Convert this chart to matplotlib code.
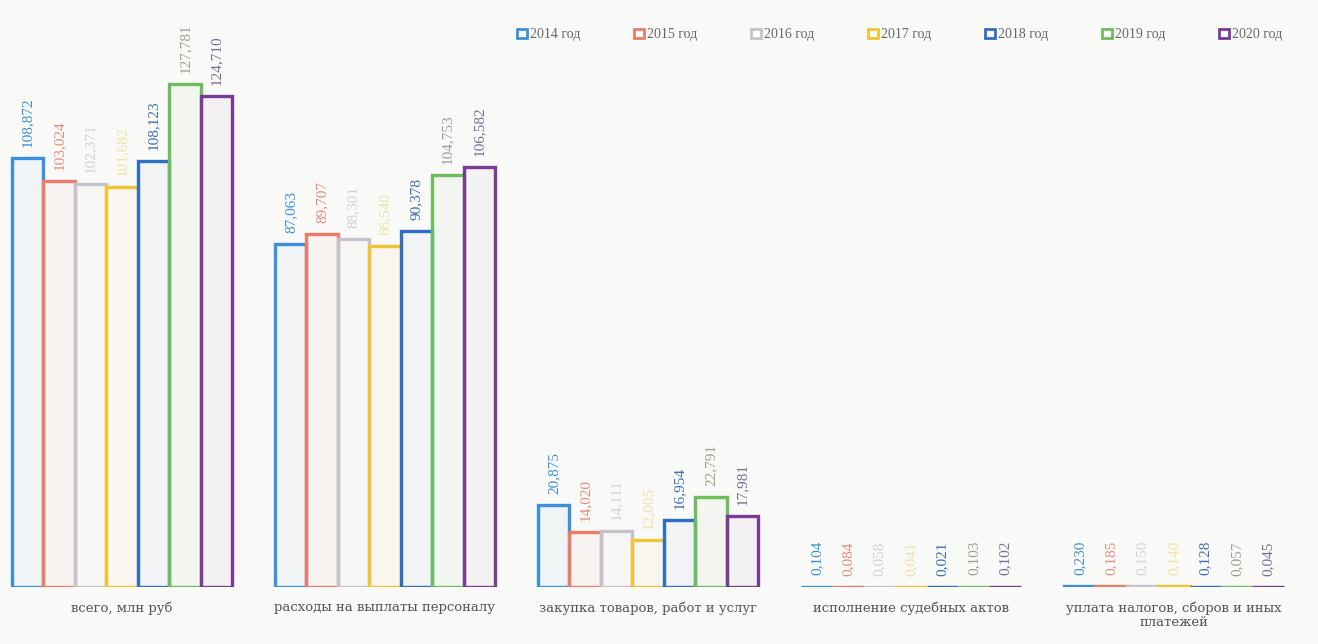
import matplotlib.pyplot as plt
import numpy as np
from matplotlib.patches import Patch

# data (faint 2016/2017 labels)
categories = [
    "всего, млн руб",
    "расходы на выплаты персоналу",
    "закупка товаров, работ и услуг",
    "исполнение судебных актов",
    "уплата налогов, сборов и иных\nплатежей",
]
years = ["2014 год", "2015 год", "2016 год", "2017 год", "2018 год", "2019 год", "2020 год"]

v2014 = [108.872, 87.063, 20.875, 0.104, 0.230]
v2015 = [103.024, 89.707, 14.020, 0.084, 0.185]
v2016 = [102.371, 88.301, 14.111, 0.058, 0.150]
v2017 = [101.682, 86.540, 12.005, 0.041, 0.140]
v2018 = [108.123, 90.378, 16.954, 0.021, 0.128]
v2019 = [127.781, 104.753, 22.791, 0.103, 0.057]
v2020 = [124.710, 106.582, 17.981, 0.102, 0.045]
series = [v2014, v2015, v2016, v2017, v2018, v2019, v2020]

edge_colors = ["#3b8fdc", "#ef7a68", "#c4c2cc", "#f4c331", "#2f6ec2", "#6cbd5c", "#7a3a96"]
label_colors = ["#3d8fd6", "#e98b7b", "#d3d3db", "#f1e2a6", "#3a6fb6", "#93a593", "#7d6a92"]

plt.rcParams["font.family"] = ["Liberation Serif", "DejaVu Serif"]

fig = plt.figure(figsize=(13.18, 6.44), dpi=100, facecolor="#f9f9f7")
ax = fig.add_axes([0, 0.0885, 1, 0.896])
ax.set_facecolor("#f9f9f7")

x = np.arange(len(categories))
width = 0.1195
for i, vals in enumerate(series):
    pos = x + (i - 3) * width
    ax.bar(pos, vals, width=width, edgecolor=edge_colors[i], linewidth=2.4, fill=False)
    ax.bar(pos, vals, width=width, color=edge_colors[i], alpha=0.04, linewidth=0)
    for px, v in zip(pos, vals):
        ax.annotate(f"{v:.3f}".replace(".", ","), (px, v), xytext=(0, 8),
                    textcoords="offset points", rotation=90, ha="center", va="bottom",
                    fontsize=11, color=label_colors[i])

ax.set_xlim(-0.464, 4.548)
ax.set_ylim(0, 146.6)
ax.axis("off")

for xi, name in zip(x, categories):
    ax.text(xi, -3.6, name, ha="center", va="top", fontsize=9.5, color="#555555",
            linespacing=1.1, family="DejaVu Serif")

handles = [Patch(facecolor="white", edgecolor=c, linewidth=2) for c in edge_colors]
fig.legend(handles, years, loc="center left", bbox_to_anchor=(0.383, 0.946), ncol=7,
           frameon=False, fontsize=10, handlelength=0.7, handleheight=0.7,
           handletextpad=0.2, columnspacing=3.9, labelcolor="#666666")

fig.savefig("out.png", dpi=100, facecolor=fig.get_facecolor())
